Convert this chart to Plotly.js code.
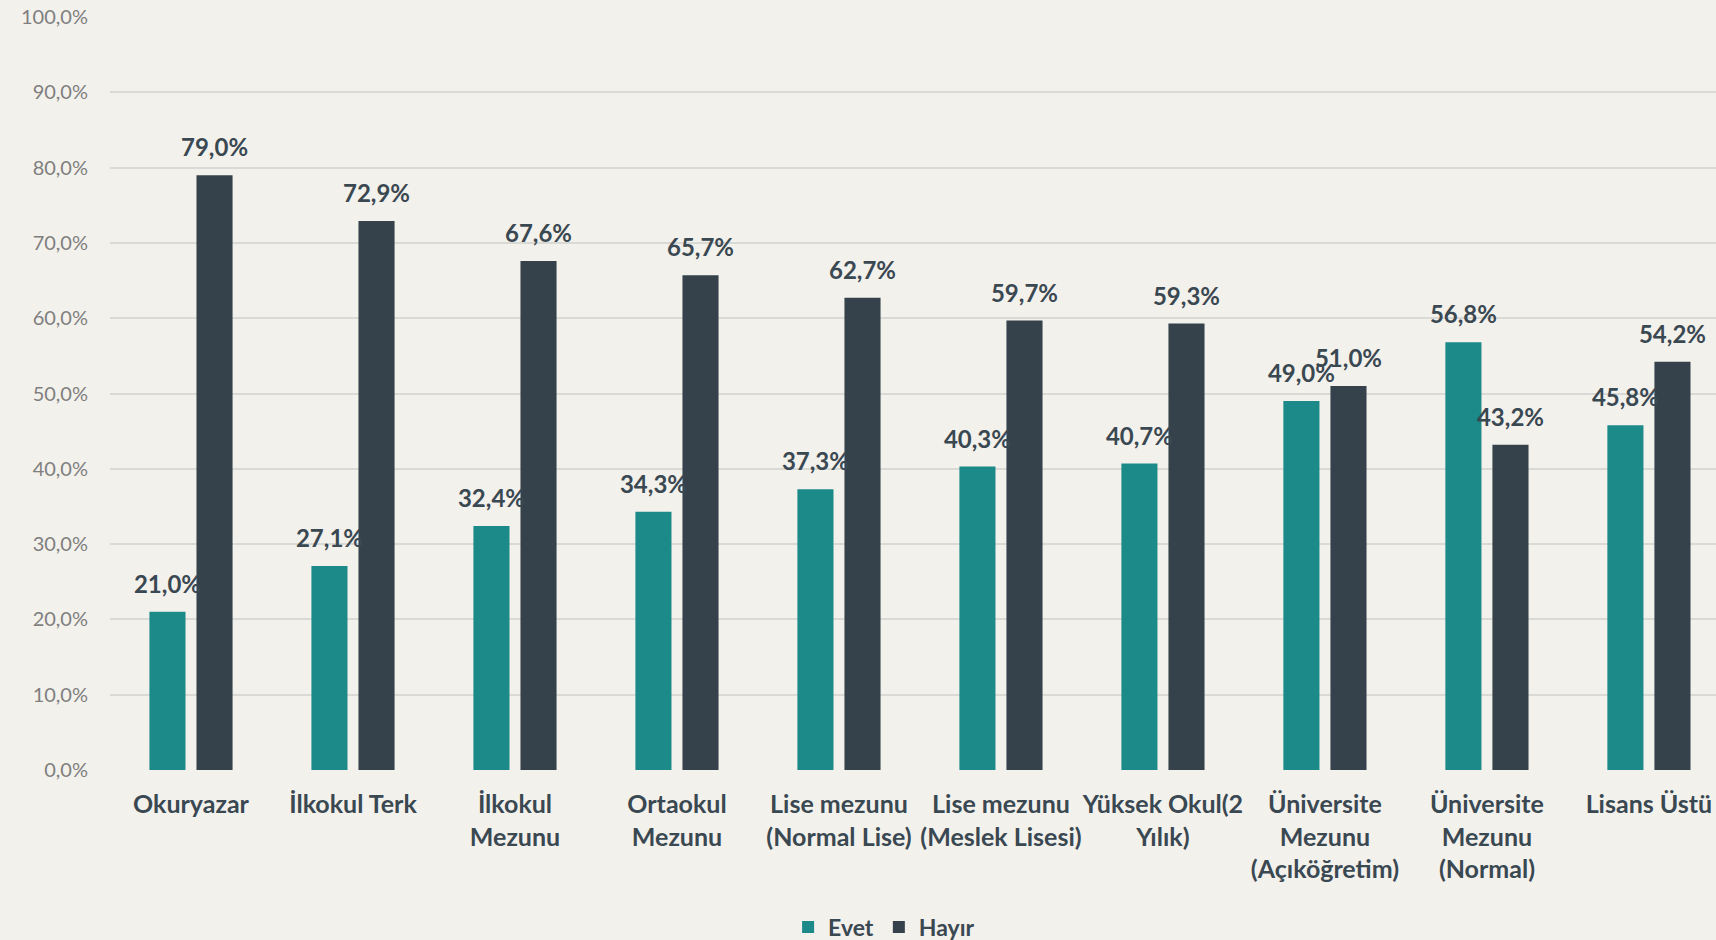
<!DOCTYPE html>
<html>
<head>
<meta charset="utf-8">
<script src="https://cdn.plot.ly/plotly-3.0.1.min.js"></script>
<style>
  html, body { margin: 0; padding: 0; overflow: hidden; background: #f3f1ec; }
  #chart { width: 1716px; height: 940px; }
</style>
</head>
<body>
<div id="chart"></div>
<script>
const categories = [
  "Okuryazar",
  "İlkokul Terk",
  "İlkokul<br>Mezunu",
  "Ortaokul<br>Mezunu",
  "Lise mezunu<br>(Normal Lise)",
  "Lise mezunu<br>(Meslek Lisesi)",
  "Yüksek Okul(2<br>Yılık)",
  "Üniversite<br>Mezunu<br>(Açıköğretim)",
  "Üniversite<br>Mezunu<br>(Normal)",
  "Lisans Üstü"
];
const evet  = [21.0, 27.1, 32.4, 34.3, 37.3, 40.3, 40.7, 49.0, 56.8, 45.8];
const hayir = [79.0, 72.9, 67.6, 65.7, 62.7, 59.7, 59.3, 51.0, 43.2, 54.2];
const seriesNames = ["Evet", "Hayır"];
const yTicks = [0, 10, 20, 30, 40, 50, 60, 70, 80, 90, 100];
const yTickText = yTicks.map(v => v.toFixed(1).replace(".", ",") + "%");

const colEvet = "#1d8a8a";
const colHayir = "#35424b";
const labelColor = "#3a4852";
const FONT = "Lato, 'Open Sans', sans-serif";

function labelTrace(vals) {
  return { type: "scatter", mode: "markers+text", x: categories, y: vals, showlegend: false,
    texttemplate: "<b>%{y:.1f}%</b>", textposition: "top center",
    marker: { size: 19, color: "rgba(0,0,0,0)", line: { width: 0 } },
    cliponaxis: false, hoverinfo: "skip",
    textfont: { family: FONT, size: 24, color: labelColor } };
}

const traces = [
  { type: "bar", name: seriesNames[0], x: categories, y: evet,
    marker: { color: colEvet }, hoverinfo: "skip" },
  { type: "bar", name: seriesNames[1], x: categories, y: hayir,
    marker: { color: colHayir }, hoverinfo: "skip" },
  labelTrace(evet),
  labelTrace(hayir)
];

const layout = {
  width: 1716, height: 940,
  margin: { l: 110, r: 0, t: 17, b: 170, autoexpand: false },
  paper_bgcolor: "#f3f1ec",
  plot_bgcolor: "rgba(0,0,0,0)",
  separators: ", ",
  barmode: "group",
  bargap: 0.419,
  bargroupgap: 0.233,
  scattermode: "group",
  scattergap: 0.419,
  font: { family: FONT, color: labelColor },
  xaxis: {
    type: "category",
    range: [-0.5, 9.414],
    showgrid: false, zeroline: false, showline: false,
    ticks: "outside", ticklen: 12, tickcolor: "rgba(0,0,0,0)",
    tickangle: 0,
    tickfont: { family: FONT, size: 25, color: labelColor, weight: "bold" }
  },
  yaxis: {
    range: [0, 100],
    tickvals: yTicks,
    ticktext: yTickText,
    showgrid: true, gridcolor: "#d9d9d6", gridwidth: 2,
    zeroline: false, showline: false,
    ticks: "outside", ticklen: 17, tickcolor: "rgba(0,0,0,0)",
    tickfont: { family: FONT, size: 20, color: "#7f7f7f" }
  },
  showlegend: true,
  legend: {
    orientation: "h", x: 0.482, xanchor: "center", y: -0.2085, yanchor: "middle",
    font: { family: FONT, size: 23, color: labelColor, weight: "bold" },
    bgcolor: "rgba(0,0,0,0)", itemwidth: 30, traceorder: "normal"
  }
};

Plotly.newPlot("chart", traces, layout, { displayModeBar: false, staticPlot: true });
</script>
</body>
</html>
